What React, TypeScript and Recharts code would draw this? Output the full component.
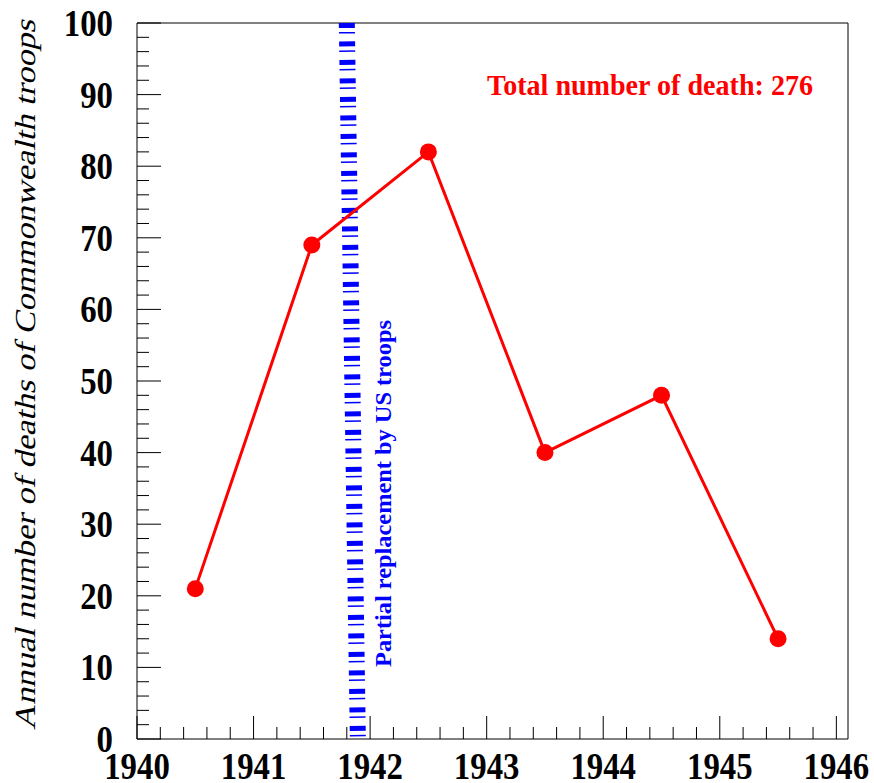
import React from 'react';
import { LineChart, Line, XAxis, YAxis, ReferenceLine } from 'recharts';

// values (points sit at mid-year)
const years = [1940.5, 1941.5, 1942.5, 1943.5, 1944.5, 1945.5];
const deaths = [21, 69, 82, 40, 48, 14];

const xMajor = [1940, 1941, 1942, 1943, 1944, 1945, 1946];
const yMajor = [0, 10, 20, 30, 40, 50, 60, 70, 80, 90, 100];

const data = years.map((year, i) => ({ year, deaths: deaths[i] }));

// minor ticks: 5 per year on x, every 2 on y
const xTicks: number[] = [];
for (let i = 0; i <= 30; i++) xTicks.push(Math.round((1940 + i * 0.2) * 10) / 10);
const yTicks: number[] = [];
for (let v = 0; v <= 100; v += 2) yTicks.push(v);

const FONT = 'Liberation Serif, Times New Roman, DejaVu Serif, serif';
const DIGIT_W = 16.4; // labels in the picture are stretched vertically

const XTick = (props: any) => {
  const { x, y, payload } = props;
  const v = payload.value;
  const major = xMajor.includes(v);
  return (
    <g>
      <line x1={x} x2={x} y1={y} y2={y - (major ? 23 : 12)} stroke="#000" strokeWidth={1} />
      {major && (
        <text
          x={x}
          y={y + 40}
          textAnchor="middle"
          style={{ fontFamily: FONT, fontWeight: 'bold', fontSize: 38 }}
          textLength={String(v).length * DIGIT_W}
          lengthAdjust="spacingAndGlyphs"
          fill="#000"
        >
          {v}
        </text>
      )}
    </g>
  );
};

const YTick = (props: any) => {
  const { x, y, payload } = props;
  const v = payload.value;
  const major = yMajor.includes(v);
  return (
    <g>
      <line x1={x} x2={x + (major ? 24 : 12)} y1={y} y2={y} stroke="#000" strokeWidth={1} />
      {major && (
        <text
          x={x - 24}
          y={y + 13}
          textAnchor="end"
          style={{ fontFamily: FONT, fontWeight: 'bold', fontSize: 38 }}
          textLength={String(v).length * DIGIT_W}
          lengthAdjust="spacingAndGlyphs"
          fill="#000"
        >
          {v}
        </text>
      )}
    </g>
  );
};

const App = () => {
  return (
    <div style={{ position: 'absolute', left: 0, top: 0, background: '#fff' }}>
      <LineChart width={874} height={783} data={data} margin={{ top: 23, right: 26, left: 0, bottom: 0 }}>
        <XAxis
          dataKey="year"
          type="number"
          domain={[1940, 1946.1]}
          allowDataOverflow
          ticks={xTicks}
          interval={0}
          tickLine={false}
          tickSize={0}
          tickMargin={0}
          tick={<XTick />}
          height={44}
          axisLine={{ stroke: '#000' }}
        />
        <YAxis
          type="number"
          domain={[0, 100]}
          allowDataOverflow
          ticks={yTicks}
          interval={0}
          tickLine={false}
          tickSize={0}
          tickMargin={0}
          tick={<YTick />}
          width={137}
          axisLine={{ stroke: '#000' }}
        />
        <ReferenceLine y={100} stroke="#000" strokeWidth={1} />
        <ReferenceLine x={1946.1} stroke="#000" strokeWidth={1} />
        <ReferenceLine
          segment={[{ x: 1941.8, y: 100 }, { x: 1941.895, y: 0 }]}
          stroke="#0000ff"
          strokeWidth={16}
          strokeDasharray="5 4 1.5 8"
        />
        <Line
          dataKey="deaths"
          stroke="#ff0000"
          strokeWidth={3}
          dot={{ r: 8.5, fill: '#ff0000', stroke: 'none' }}
          isAnimationActive={false}
        />
        <text
          x={487}
          y={95}
          style={{ fontFamily: FONT, fontWeight: 'bold', fontSize: 30 }}
          textLength={326}
          lengthAdjust="spacingAndGlyphs"
          fill="#ff0000"
        >
          Total number of death: 276
        </text>
        <text
          transform="translate(391,667) rotate(-90)"
          style={{ fontFamily: FONT, fontWeight: 'bold', fontSize: 23 }}
          textLength={347}
          lengthAdjust="spacingAndGlyphs"
          fill="#0000ff"
        >
          Partial replacement by US troops
        </text>
        {/* no serif italic face installed: slant the upright one */}
        <text
          transform="translate(35,375) rotate(-90) skewX(-14)"
          textAnchor="middle"
          style={{ fontFamily: FONT, fontSize: 29 }}
          textLength={710}
          lengthAdjust="spacingAndGlyphs"
          fill="#000"
        >
          Annual number of deaths of Commonwealth troops
        </text>
      </LineChart>
    </div>
  );
};

export default App;
